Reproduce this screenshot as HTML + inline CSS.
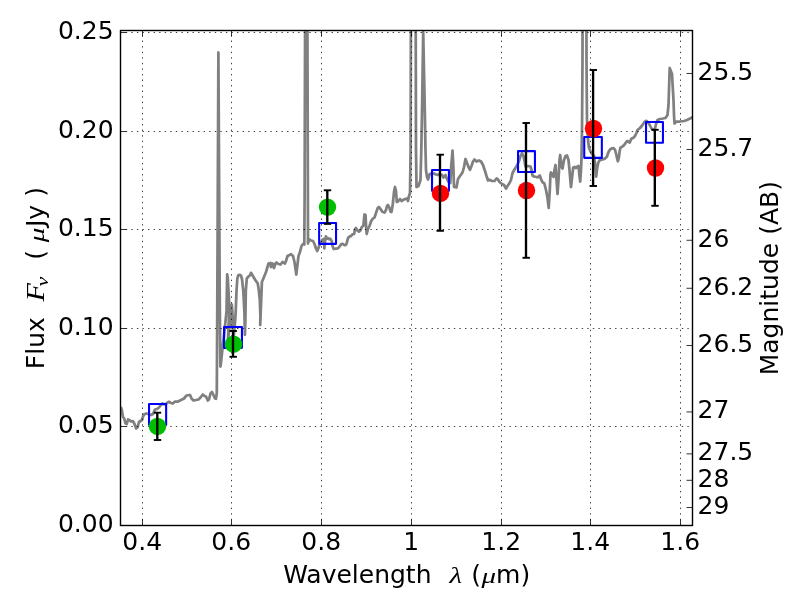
<!DOCTYPE html>
<html lang="en"><head><meta charset="utf-8"><title>SED plot</title>
<style>html,body{margin:0;padding:0;background:#fff;}svg{display:block;will-change:transform;}text{font-family:"DejaVu Sans","Liberation Sans",sans-serif;fill:#000;}.t{font-size:25px;}.l{font-size:25px;}.m{font-family:"Liberation Serif","DejaVu Serif",serif;font-style:italic;}</style></head><body>
<svg width="800" height="600" viewBox="0 0 800 600">
<rect width="800" height="600" fill="#fff"/>
<defs><clipPath id="ax"><rect x="120.5" y="30.5" width="572.0" height="495.0"/></clipPath></defs>
<g clip-path="url(#ax)"><polyline points="120.8,407 121.8,410 123,417 124.2,418.5 125.5,423.5 126.8,424 128,419.5 129.5,420 131,421.5 133,421.2 134.5,424 136.2,428.5 137.5,427.5 139,422 140.5,421 142,420 143.5,415 145,414 146.5,413.5 148,414 151,415 153,414 155,409.5 157,409 159,407.5 161,405 162.5,403.5 165,404.5 167,403 169,401.8 171,403 172.8,403.5 175,401.5 178,401.5 180.5,400.2 184,398.5 186.5,395.5 189.5,395 190.3,395.5 191.5,398.5 193.5,400.5 196,400 198.5,399.5 200.5,397.5 202.8,394.5 204.5,396 206,396.5 207.8,400.5 209,399.5 210.5,393.5 212,392 213.5,395 215,398.5 216,398.8 216.8,393 217.3,300 218.4,52.5 219.75,300 220.4,366.5 220.6,366 224.9,327 226.5,312 226.9,290 227.2,274.3 227.8,279 229.0,300 229.2,312 227.9,341 229.2,330 230.6,318 231.3,310 231.8,304.5 232.4,312 233.6,338 235.2,320 235.7,312 236.5,291 237.3,279 238.1,275.5 239.5,274.8 240.9,275.5 242,279 243.3,291 244.4,312 244.9,334.8 245.4,320 245.8,291 246.8,278.4 248.5,276.5 250,275.2 251,272.8 252.3,275 253.5,277 255.6,280.5 257.7,283.3 258.8,290 259.8,300 260.4,316 260.2,325 261.0,305 261.9,282 264,277 266,272 267.5,267 268.5,263.5 270.5,263 271,267 272.5,263.5 274,268 275.5,263.5 276.5,262.5 278.5,264 280.5,264.5 282.5,262 285,263.5 286,261 287.5,256 289.5,255 291,254.2 293,256 294.5,262 295.5,269 296.3,274.5 297.2,267 298.5,256 300,252 301.5,246 303,244 304.3,244.5 304.6,200 305.7,-200 306.8,-200 307.9,200 308,243.5 309,239 311,240.5 313,241 314.5,244 316,248.5 317.2,251 318.5,248 319,246 320.5,243.5 322,240.2 323.8,239.0 324.1,244 324.4,248.4 324.8,243 325.9,236.4 327,238.6 328,238.2 329,239.2 330.1,238.6 331.7,241 332.5,246 333.7,249 335.8,248.7 337.9,248.4 339.4,246.6 341.2,244.2 342.7,243.9 344.5,245.1 346,244.8 346.9,242.4 347.8,238.8 349,236.7 350.8,236.1 352.6,234.3 354.1,234 355,229.2 355.9,228 357.4,230.4 358.9,231.6 360.4,230.4 361.6,227.4 363.4,225.5 364.5,214.5 365.5,215 366.2,228 366.7,234 368,229 369.5,226 371,221.5 372.5,219 374.5,217.5 376,213 377.5,208.5 378.8,207 380.5,209 382.5,212 384.5,212.5 386,210 387,206 388,205 389.5,208 390.5,211.5 391.5,212 392.8,204 394,192 395,187 396,191 396.8,202 398,201.5 400,199 401.5,201 403,200 405,199 407,198.5 408,201 409,196 410,193 410.6,150 411.4,-200 415.2,-200 416,150 416.5,187 418.5,186 420.5,180 421.3,150 422.2,100 423.2,32 424.6,100 425.5,150 426,170 427,177 428,179.5 429.5,174.5 431,173.5 434,173.5 436,174.5 438,175 439.5,174 442,175 443.5,177.5 445.5,175 447,179 448.5,182 450.3,183 451.3,165 452.5,150.7 453.3,165 454,187 456.5,187.5 458,179 460,176 462.5,172.5 464,167 465.5,159 467,163 468.5,167 470,169.8 471.5,166 473,161.5 474.5,159.5 476.5,161.5 479,160.5 481,161.5 483,165 485,171 486.5,176 488,180.5 489.5,179.8 491.5,180.8 494.5,181 496.5,178.5 498,179.5 499.5,182 502,184 504,185 506,188.5 507.5,186 509.5,183 511,180 512.5,173 514.5,169.5 517,165.5 519,161 520.5,156 522,153.5 523.5,156 524.5,161 525.5,166.5 528,166 530.5,166.5 531.5,170 532.5,175.5 534,176.5 536.5,177 538,177.3 539.8,175.5 541,179 542.3,182 544.3,183.3 546,190 547.5,198 548.7,207.8 549.8,190 550.5,174 551,172.5 552.5,175 553.5,177 554.5,170 555.5,165 556.5,180 557.5,194 558.5,180 559.5,160 560.2,155 561.5,167 562.5,168.5 564,160 565.5,156 567,155.5 568.5,160 569.5,170 570.5,182 571,187 572,178 573.2,167.5 574.5,167 576,168 577.5,166.5 578.5,166 579.5,176 580.2,181.5 581,170 581.5,158 582,130 582.5,60 582.9,-200 586.1,-200 586.5,60 586.8,100 587,120 588,140 589,148 590.5,151.5 592.5,154.5 594.1,156 595.25,165 596.15,176.6 597.1,168.75 598.25,162.75 599.75,160.1 602.4,159.4 605,158.6 606.9,156.75 608.4,152.25 609.9,149.6 611.75,148.35 613.6,148.1 615.1,150 616.25,154.5 617.4,159.75 617.9,161.25 618.9,157.5 619.6,151.5 620.4,147.75 622.25,146.6 624.1,145.1 625.6,142.9 627.1,141 628.6,141.75 629.75,142.5 631.25,138.75 633.1,138 635,136 636.5,133 637.5,130 640,128 642.5,125 644.5,122 646.5,120.8 648.5,123 650,125.5 651.5,128.5 653.5,130 655,128.5 656,124 657.5,120 660,119 663,118.5 665.5,118 667.5,115 668.5,105 669.7,68 672,74 673.5,100 674,115 674.5,123.5 676.5,121.5 680,121.5 684,121 687,120 690,118.5 692.6,117.3" fill="none" stroke="#808080" stroke-width="2.75" stroke-linejoin="round" stroke-linecap="butt"/></g>
<g stroke="#000" stroke-width="0.75" stroke-dasharray="1.39 4.17" fill="none" clip-path="url(#ax)">
<line x1="142.5" y1="30.5" x2="142.5" y2="525.5" stroke-dashoffset="1.0"/>
<line x1="231.5" y1="30.5" x2="231.5" y2="525.5" stroke-dashoffset="1.0"/>
<line x1="321.5" y1="30.5" x2="321.5" y2="525.5" stroke-dashoffset="1.0"/>
<line x1="411.5" y1="30.5" x2="411.5" y2="525.5" stroke-dashoffset="1.0"/>
<line x1="501.5" y1="30.5" x2="501.5" y2="525.5" stroke-dashoffset="1.0"/>
<line x1="590.5" y1="30.5" x2="590.5" y2="525.5" stroke-dashoffset="1.0"/>
<line x1="680.5" y1="30.5" x2="680.5" y2="525.5" stroke-dashoffset="1.0"/>
<line x1="122.0" y1="32.5" x2="692.5" y2="32.5" stroke-dashoffset="1.75"/>
<line x1="122.0" y1="131.5" x2="692.5" y2="131.5" stroke-dashoffset="1.75"/>
<line x1="122.0" y1="229.5" x2="692.5" y2="229.5" stroke-dashoffset="1.75"/>
<line x1="122.0" y1="328.5" x2="692.5" y2="328.5" stroke-dashoffset="1.75"/>
<line x1="122.0" y1="426.5" x2="692.5" y2="426.5" stroke-dashoffset="1.75"/>
</g>
<g fill="none" stroke="#0000ff" stroke-width="2.08" stroke-linejoin="round">
<rect x="149.04" y="404.04" width="17.1" height="20.8"/>
<rect x="224.04" y="327.04" width="17.9" height="20.8"/>
<rect x="319.14" y="223.04" width="16.9" height="20.8"/>
<rect x="432.04" y="170.04" width="16.9" height="20.8"/>
<rect x="518.04" y="151.14" width="16.9" height="20.8"/>
<rect x="584.24" y="137.04" width="17.6" height="20.8"/>
<rect x="646.04" y="121.94" width="16.9" height="20.8"/>
</g>
<g fill="#00be00">
<circle cx="157.5" cy="426.4" r="8.7"/>
<circle cx="233.5" cy="344.2" r="8.7"/>
<circle cx="327.5" cy="207.1" r="8.7"/>
</g><g fill="#ff0000">
<circle cx="440.5" cy="193.4" r="8.7"/>
<circle cx="526.5" cy="190.5" r="8.7"/>
<circle cx="593.5" cy="128.5" r="8.7"/>
<circle cx="655.5" cy="168.0" r="8.7"/>
</g>
<g stroke="#000" fill="none">
<line x1="157.3" y1="412.7" x2="157.3" y2="440.0" stroke-width="2.35"/>
<line x1="153.80" y1="412.7" x2="161.20" y2="412.7" stroke-width="1.9"/>
<line x1="153.80" y1="440.0" x2="161.20" y2="440.0" stroke-width="1.9"/>
<line x1="233.0" y1="331.0" x2="233.0" y2="356.8" stroke-width="2.35"/>
<line x1="229.50" y1="331.0" x2="236.90" y2="331.0" stroke-width="1.9"/>
<line x1="229.50" y1="356.8" x2="236.90" y2="356.8" stroke-width="1.9"/>
<line x1="327.3" y1="190.3" x2="327.3" y2="223.9" stroke-width="2.35"/>
<line x1="323.80" y1="190.3" x2="331.20" y2="190.3" stroke-width="1.9"/>
<line x1="323.80" y1="223.9" x2="331.20" y2="223.9" stroke-width="1.9"/>
<line x1="440.0" y1="154.7" x2="440.0" y2="230.8" stroke-width="2.35"/>
<line x1="436.50" y1="154.7" x2="443.90" y2="154.7" stroke-width="1.9"/>
<line x1="436.50" y1="230.8" x2="443.90" y2="230.8" stroke-width="1.9"/>
<line x1="526.0" y1="123.0" x2="526.0" y2="257.8" stroke-width="2.35"/>
<line x1="522.50" y1="123.0" x2="529.90" y2="123.0" stroke-width="1.9"/>
<line x1="522.50" y1="257.8" x2="529.90" y2="257.8" stroke-width="1.9"/>
<line x1="593.1" y1="70.0" x2="593.1" y2="186.0" stroke-width="2.35"/>
<line x1="589.60" y1="70.0" x2="597.00" y2="70.0" stroke-width="1.9"/>
<line x1="589.60" y1="186.0" x2="597.00" y2="186.0" stroke-width="1.9"/>
<line x1="654.8" y1="129.8" x2="654.8" y2="205.8" stroke-width="2.35"/>
<line x1="651.30" y1="129.8" x2="658.70" y2="129.8" stroke-width="1.9"/>
<line x1="651.30" y1="205.8" x2="658.70" y2="205.8" stroke-width="1.9"/>
</g>
<g stroke="#000" stroke-width="0.8">
<line x1="142.5" y1="525.5" x2="142.5" y2="519.5"/>
<line x1="142.5" y1="30.5" x2="142.5" y2="36.5"/>
<line x1="231.5" y1="525.5" x2="231.5" y2="519.5"/>
<line x1="231.5" y1="30.5" x2="231.5" y2="36.5"/>
<line x1="321.5" y1="525.5" x2="321.5" y2="519.5"/>
<line x1="321.5" y1="30.5" x2="321.5" y2="36.5"/>
<line x1="411.5" y1="525.5" x2="411.5" y2="519.5"/>
<line x1="411.5" y1="30.5" x2="411.5" y2="36.5"/>
<line x1="501.5" y1="525.5" x2="501.5" y2="519.5"/>
<line x1="501.5" y1="30.5" x2="501.5" y2="36.5"/>
<line x1="590.5" y1="525.5" x2="590.5" y2="519.5"/>
<line x1="590.5" y1="30.5" x2="590.5" y2="36.5"/>
<line x1="680.5" y1="525.5" x2="680.5" y2="519.5"/>
<line x1="680.5" y1="30.5" x2="680.5" y2="36.5"/>
<line x1="120.5" y1="32.5" x2="126.5" y2="32.5"/>
<line x1="120.5" y1="131.5" x2="126.5" y2="131.5"/>
<line x1="120.5" y1="229.5" x2="126.5" y2="229.5"/>
<line x1="120.5" y1="328.5" x2="126.5" y2="328.5"/>
<line x1="120.5" y1="426.5" x2="126.5" y2="426.5"/>
<line x1="692.5" y1="73.47" x2="686.5" y2="73.47"/>
<line x1="692.5" y1="149.51" x2="686.5" y2="149.51"/>
<line x1="692.5" y1="240.29" x2="686.5" y2="240.29"/>
<line x1="692.5" y1="288.27" x2="686.5" y2="288.27"/>
<line x1="692.5" y1="345.54" x2="686.5" y2="345.54"/>
<line x1="692.5" y1="411.95" x2="686.5" y2="411.95"/>
<line x1="692.5" y1="453.86" x2="686.5" y2="453.86"/>
<line x1="692.5" y1="480.30" x2="686.5" y2="480.30"/>
<line x1="692.5" y1="507.50" x2="686.5" y2="507.50"/>
</g>
<rect x="120.5" y="30.5" width="572.0" height="495.0" fill="none" stroke="#000" stroke-width="1.4"/>
<text class="t" x="142.2" y="549.6" text-anchor="middle">0.4</text>
<text class="t" x="231.2" y="549.6" text-anchor="middle">0.6</text>
<text class="t" x="321.2" y="549.6" text-anchor="middle">0.8</text>
<text class="t" x="411.2" y="549.6" text-anchor="middle">1</text>
<text class="t" x="501.2" y="549.6" text-anchor="middle">1.2</text>
<text class="t" x="590.2" y="549.6" text-anchor="middle">1.4</text>
<text class="t" x="680.2" y="549.6" text-anchor="middle">1.6</text>
<text class="t" x="113.6" y="39.1" text-anchor="end">0.25</text>
<text class="t" x="113.6" y="138.1" text-anchor="end">0.20</text>
<text class="t" x="113.6" y="236.1" text-anchor="end">0.15</text>
<text class="t" x="113.6" y="335.1" text-anchor="end">0.10</text>
<text class="t" x="113.6" y="433.1" text-anchor="end">0.05</text>
<text class="t" x="113.6" y="531.6" text-anchor="end">0.00</text>
<text class="t" x="697.6" y="79.8">25.5</text>
<text class="t" x="697.6" y="155.8">25.7</text>
<text class="t" x="697.6" y="246.6">26</text>
<text class="t" x="697.6" y="294.6">26.2</text>
<text class="t" x="697.6" y="351.8">26.5</text>
<text class="t" x="697.6" y="418.3">27</text>
<text class="t" x="697.6" y="460.2">27.5</text>
<text class="t" x="697.6" y="486.6">28</text>
<text class="t" x="697.6" y="513.8">29</text>
<text class="l" x="283.2" y="582.5">Wavelength</text>
<text class="m" font-size="23.8" x="449.4" y="582.5" textLength="12.6" lengthAdjust="spacingAndGlyphs">λ</text>
<text class="l" x="471.3" y="582.5">(</text>
<text class="m" font-size="21.6" x="481.4" y="582.5" textLength="14.6" lengthAdjust="spacingAndGlyphs">μ</text>
<text class="l" x="496.1" y="582.5">m)</text>
<g transform="translate(44.4,0) rotate(-90)">
<text class="l" x="-369.2" y="0">Flux</text>
<text class="l m" x="-301.6" y="0" textLength="18.4" lengthAdjust="spacingAndGlyphs">F</text>
<text class="m" x="-286.6" y="3.8" font-size="17.5" textLength="9.8" lengthAdjust="spacingAndGlyphs">ν</text>
<text class="l" x="-259.8" y="0">(</text>
<text class="m" font-size="21.6" x="-242.2" y="0" textLength="14.6" lengthAdjust="spacingAndGlyphs">μ</text>
<text class="l" x="-227" y="0">Jy</text>
<text class="l" x="-196.8" y="0">)</text>
</g>
<g transform="translate(778.3,0) rotate(-90)">
<text class="l" x="-278.2" y="0" text-anchor="middle">Magnitude (AB)</text>
</g>
</svg></body></html>
